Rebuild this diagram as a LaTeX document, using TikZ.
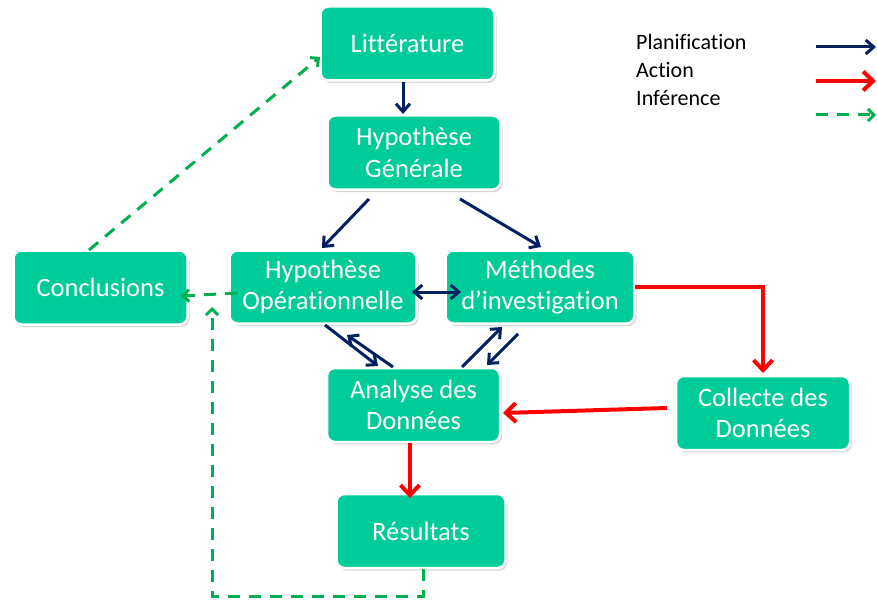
\documentclass[tikz,border=0pt]{standalone}
\usepackage{fontspec}
\setmainfont[Ligatures=NoCommon]{Carlito}
\usetikzlibrary{arrows.meta,shadows,calc}
\definecolor{boxgreen}{RGB}{0,204,153}
\definecolor{navyc}{RGB}{0,32,96}
\definecolor{redc}{RGB}{255,0,0}
\definecolor{dgreen}{RGB}{0,176,80}
\begin{document}
\begin{tikzpicture}[x=1pt,y=-1pt,
  box/.style={rectangle, rounded corners=8pt, fill=boxgreen, draw=white, line width=2.5pt,
    text=white, align=center, inner sep=0pt,
    font=\fontsize{26.5}{31.5}\selectfont,
    drop shadow={shadow xshift=2pt, shadow yshift=-2.5pt, opacity=0.3}},
  plan/.style={draw=navyc, line width=3pt, -{Straight Barb[length=8pt,width=14pt,line width=3pt]}},
  act/.style={draw=redc, line width=4pt, -{Straight Barb[length=10pt,width=19pt,line width=4pt]}},
  inf/.style={draw=dgreen, line width=3pt, dash pattern=on 12pt off 9pt,
    -{Straight Barb[length=6pt,width=12pt,line width=3pt]}},
  legtext/.style={anchor=base west, inner sep=0pt, font=\fontsize{22}{27}\selectfont, text=black}
]
\useasboundingbox (0,0) rectangle (877,599);

\node[box, minimum width=174pt, minimum height=74pt] (lit) at (407.5,43.5) {Littérature};
\node[box, minimum width=173pt, minimum height=74pt] (hg) at (414,152.5) {Hypothèse\\Générale};
\node[box, minimum width=174pt, minimum height=74pt] (con) at (100.5,287.5) {Conclusions};
\node[box, minimum width=187pt, minimum height=73pt] (hop) at (323,287) {Hypothèse\\Opérationnelle};
\node[box, minimum width=189pt, minimum height=73pt] (met) at (540,287) {Méthodes\\d’investigation};
\node[box, minimum width=173pt, minimum height=74pt] (ana) at (413.5,405) {Analyse des\\Données};
\node[box, minimum width=174pt, minimum height=74pt] (col) at (763,413) {Collecte des\\Données};
\node[box, minimum width=169pt, minimum height=74pt] (res) at (421,531) {Résultats};

% Planification (navy)
\draw[plan] ($(lit)+(-4.5,38.5)$) -- ($(hg)+(-11,-38.5)$);
\draw[plan] ($(hg)+(-45,46.5)$) -- ($(hop)+(-1,-39)$);
\draw[plan] ($(hg)+(46,46.5)$) -- ($(met)+(1,-40)$);
\draw[plan, {Straight Barb[length=8pt,width=14pt,line width=3pt]}-{Straight Barb[length=8pt,width=14pt,line width=3pt]}] ($(hop)+(89,5)$) -- ($(met)+(-79,5)$);
\draw[plan] ($(hop)+(2,38)$) -- ($(ana)+(-35.5,-39)$);
\draw[plan] ($(ana)+(-20.5,-38)$) -- ($(hop)+(24,48)$);
\draw[plan] ($(ana)+(48.5,-38)$) -- ($(met)+(-38,40)$);
\draw[plan] ($(met)+(-22,47)$) -- ($(ana)+(73.5,-40)$);

% Action (red)
\draw[act] ($(met)+(95,0)$) -| ($(col)+(0,-40)$);
\draw[act] ($(col)+(-96,-5)$) -- ($(ana)+(89.5,8)$);
\draw[act] ($(ana)+(-3.5,38)$) -- ($(res)+(-11,-33)$);

% Inference (green dashed)
\coordinate (loopend) at (212,307);
\draw[inf] ($(con)+(-11.5,-37.5)$) -- ($(lit)+(-87.5,13.5)$);
\draw[inf] ($(hop)+(-86,6)$) -- ($(con)+(80.5,8.5)$);
\draw[inf] ($(res)+(2,38)$) -- ($(res)+(2,65)$) -| (loopend);

% Legend
\node[legtext] (lp) at (636,50) {Planification};
\node[legtext] (la) at (636,78) {Action};
\node[legtext] (li) at (636,106) {Inférence};
\coordinate (p1) at (816,47); \coordinate (p2) at (876,47);
\coordinate (a1) at (816,81); \coordinate (a2) at (876,81);
\coordinate (i1) at (816,115); \coordinate (i2) at (876,115);
\draw[plan] (p1) -- (p2);
\draw[act] (a1) -- (a2);
\draw[inf] (i1) -- (i2);
\end{tikzpicture}
\end{document}
